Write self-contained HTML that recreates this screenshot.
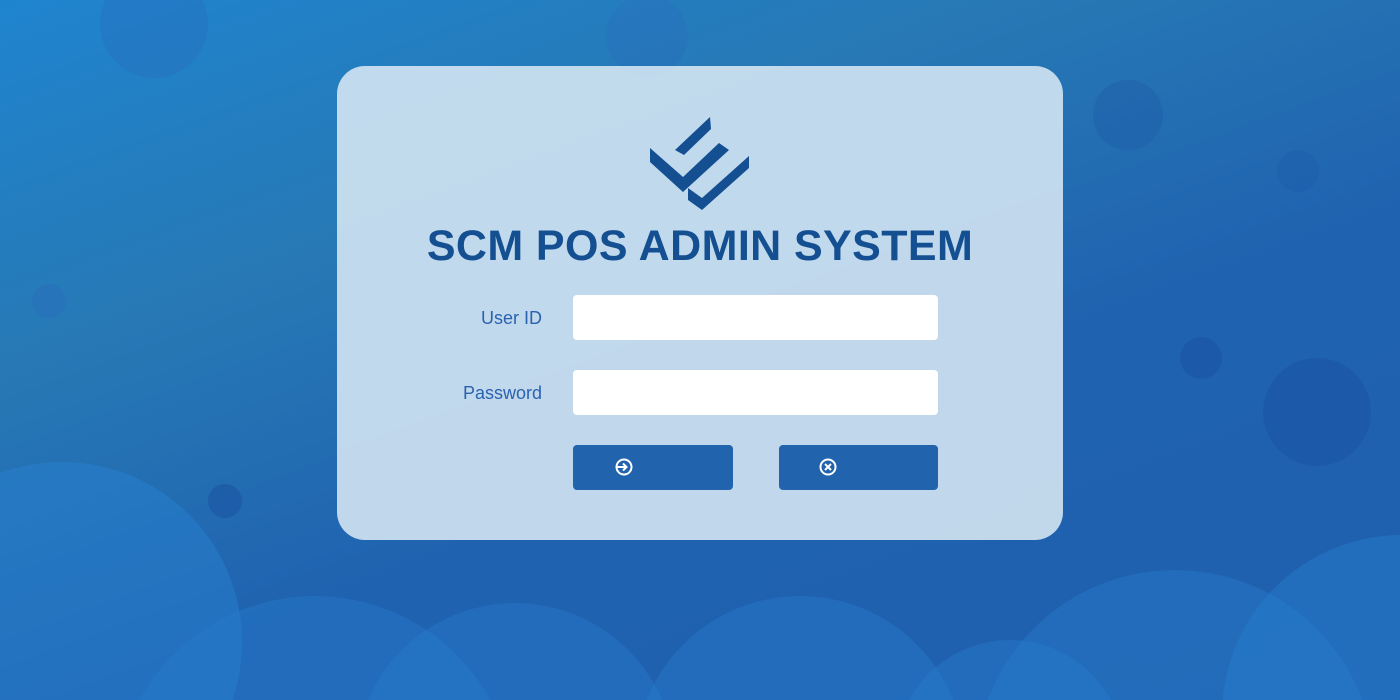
<!DOCTYPE html>
<html><head><style>
html,body{margin:0;width:1400px;height:700px;overflow:hidden;font-family:"Liberation Sans",sans-serif}
.bg{position:absolute;inset:0;background:linear-gradient(160deg,#1f84cf 0%,#2779b5 30%,#1f62b0 60%,#1f60ae 100%);overflow:hidden}
.c{position:absolute;border-radius:50%}
.card{position:absolute;left:337px;top:66px;width:726px;height:474px;border-radius:28px;background:rgba(205,225,240,0.93)}
h1{position:absolute;left:0;width:1400px;top:222px;margin:0;text-align:center;font-size:43px;font-weight:bold;color:#144f92;letter-spacing:0.4px}
.lbl{position:absolute;color:#2a62b0;font-size:18px;text-align:right;width:150px}
.in{position:absolute;left:573px;width:365px;height:45px;background:#fff;border-radius:4px}
.btn{position:absolute;top:445px;height:45px;background:#2163ad;border-radius:4px}
</style></head><body>
<div class="bg">
<div class="c" style="left:100px;top:-30px;width:108px;height:108px;background:rgba(40,110,190,0.4)"></div>
<div class="c" style="left:606px;top:-5px;width:82px;height:82px;background:rgba(40,110,190,0.4)"></div>
<div class="c" style="left:1093px;top:80px;width:70px;height:70px;background:rgba(30,90,170,0.35)"></div>
<div class="c" style="left:1277px;top:150px;width:42px;height:42px;background:rgba(30,90,170,0.35)"></div>
<div class="c" style="left:1263px;top:358px;width:108px;height:108px;background:rgba(25,80,160,0.4)"></div>
<div class="c" style="left:1180px;top:337px;width:42px;height:42px;background:rgba(25,80,160,0.4)"></div>
<div class="c" style="left:32px;top:284px;width:34px;height:34px;background:rgba(40,110,190,0.5)"></div>
<div class="c" style="left:208px;top:484px;width:34px;height:34px;background:rgba(25,80,160,0.5)"></div>
<div class="c" style="left:-118px;top:462px;width:360px;height:360px;background:rgba(40,130,210,0.45)"></div>
<div class="c" style="left:115px;top:596px;width:400px;height:400px;background:rgba(40,130,210,0.35)"></div>
<div class="c" style="left:355px;top:603px;width:320px;height:320px;background:rgba(40,130,210,0.35)"></div>
<div class="c" style="left:635px;top:596px;width:330px;height:330px;background:rgba(40,130,210,0.35)"></div>
<div class="c" style="left:895px;top:640px;width:230px;height:230px;background:rgba(40,130,210,0.35)"></div>
<div class="c" style="left:975px;top:570px;width:400px;height:400px;background:rgba(40,130,210,0.35)"></div>
<div class="c" style="left:1222px;top:535px;width:360px;height:360px;background:rgba(40,130,210,0.4)"></div>
</div>
<div class="card"></div>
<svg style="position:absolute;left:0;top:0" width="1400" height="700">
<polygon points="675,150 710,117 711,129 684,155" fill="#144f92"/>
<polygon points="650,148 683,177 719,143 729,150 683,192 650,162" fill="#144f92"/>
<polygon points="688,188 688,200 702,210 749,168 749,156 702,198" fill="#144f92"/>
</svg>
<h1>SCM POS ADMIN SYSTEM</h1>
<div class="lbl" style="left:392px;top:308px">User ID</div>
<div class="lbl" style="left:392px;top:383px">Password</div>
<div class="in" style="top:295px"></div>
<div class="in" style="top:370px"></div>
<div class="btn" style="left:573px;width:160px"></div>
<div class="btn" style="left:779px;width:159px"></div>
<svg style="position:absolute;left:0;top:0" width="1400" height="700">
<circle cx="624" cy="467" r="7.5" fill="none" stroke="#fff" stroke-width="2"/>
<path d="M617 467h9M623 463.5l3.5 3.5-3.5 3.5" stroke="#fff" stroke-width="2" fill="none"/>
<circle cx="828" cy="467" r="7.5" fill="none" stroke="#fff" stroke-width="2"/>
<path d="M825 464l6 6M831 464l-6 6" stroke="#fff" stroke-width="2"/>
</svg>
</body></html>
